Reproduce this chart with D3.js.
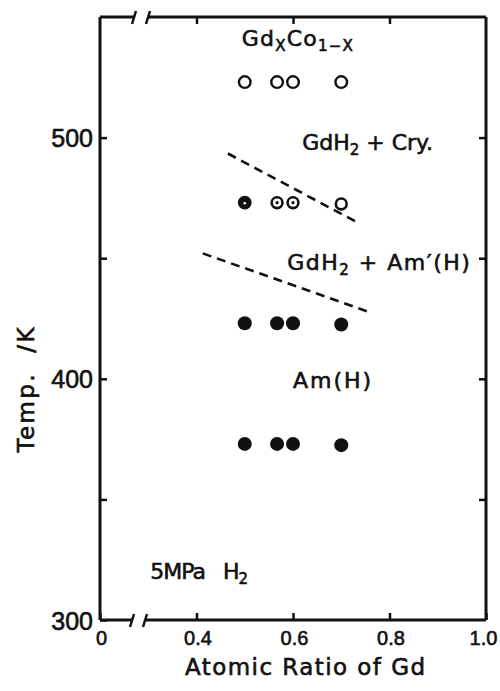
<!DOCTYPE html>
<html>
<head>
<meta charset="utf-8">
<script src="https://cdn.jsdelivr.net/npm/d3@7/dist/d3.min.js"></script>
<style>
  html, body { margin: 0; padding: 0; background: #fff; }
  svg { display: block; font-family: "DejaVu Sans", sans-serif; }
</style>
</head>
<body>
<svg id="chart" width="500" height="691"></svg>
<script>
// Atomic ratio of Gd for each sample
const ratios = [0.5, 0.567, 0.6, 0.7];

// Temperatures (K) of each row of measurements
const crystalTemp = [523, 523, 523, 523];
const mixedTemp = [473, 473, 473, 472.5];
const amorphTemp = [423, 423, 423, 422.5];
const lowTemp = [373, 373, 373, 372.5];

// marker style of the 473 K row
const mixedKind = ['dark', 'dot', 'dot', 'open'];

// Dashed phase boundaries (two end points each)
const upperBoundX = [0.465, 0.731];
const upperBoundT = [493.4, 465.1];
const lowerBoundX = [0.413, 0.753];
const lowerBoundT = [452, 428];

// Tick values and labels
const xTicks = [0.2, 0.4, 0.6, 0.8, 1.0];
const xTickLabels = ['0', '0.4', '0.6', '0.8', '1.0'];
const yTicks = [300, 350, 400, 450, 500];
const yTickLabels = ['300', '', '400', '', '500'];

const svg = d3.select('#chart');
const width = 500, height = 691;
const margin = { top: 17, right: 14, bottom: 71, left: 100 };
const innerWidth = width - margin.left - margin.right;
const innerHeight = height - margin.top - margin.bottom;

const g = svg.append('g')
  .attr('transform', `translate(${margin.left},${margin.top})`);

// X scale (axis is broken between 0 and 0.4, so 0 sits where 0.2 would)
const x = d3.scaleLinear()
  .domain([0.2, 1.0])
  .range([0, innerWidth]);

// Y scale
const y = d3.scaleLinear()
  .domain([300, 550])
  .range([innerHeight, 0]);

const ink = '#111';

// thicken the thin DejaVu glyphs a little so they look like the print
const inkText = sel => sel
  .attr('fill', ink)
  .attr('stroke', ink)
  .attr('stroke-width', 0.6);

// Axes, ticks pointing inward
const styleAxis = sel => {
  sel.select('.domain').remove();
  sel.selectAll('.tick line').attr('stroke', ink).attr('stroke-width', 2.5);
  sel.selectAll('.tick text').call(inkText);
  // drop unlabeled tick texts
  sel.selectAll('.tick text').filter(function () { return !this.textContent; }).remove();
};

g.append('g')
  .attr('transform', `translate(0,${innerHeight})`)
  .call(d3.axisBottom(x).tickValues(xTicks).tickSize(-7).tickPadding(11)
    .tickFormat((d, i) => xTickLabels[i]))
  .call(styleAxis)
  .selectAll('.tick text')
  .attr('font-size', 20)
  .attr('dx', (d, i) => i === 4 ? -3 : 1);

g.append('g')
  .call(d3.axisTop(x).tickValues(xTicks.slice(1, 4)).tickSize(-7).tickFormat(''))
  .call(styleAxis);

g.append('g')
  .call(d3.axisLeft(y).tickValues(yTicks).tickSize(-7).tickPadding(7)
    .tickFormat((d, i) => yTickLabels[i]))
  .call(styleAxis)
  .selectAll('.tick text')
  .attr('font-size', 25)
  .attr('dy', '0.36em');

g.append('g')
  .attr('transform', `translate(${innerWidth},0)`)
  .call(d3.axisRight(y).tickValues(yTicks.slice(1)).tickSize(-7).tickFormat(''))
  .call(styleAxis);

// Frame with the break marks on top and bottom edges
const frame = g.append('g')
  .attr('fill', 'none')
  .attr('stroke', ink)
  .attr('stroke-width', 3);

frame.append('line').attr('x1', 0).attr('x2', 0).attr('y1', 0).attr('y2', innerHeight);
frame.append('line').attr('x1', innerWidth).attr('x2', innerWidth).attr('y1', 0).attr('y2', innerHeight);

[[0, 35, 49], [innerHeight, 33, 46]].forEach(([yy, b0, b1]) => {
  frame.append('line').attr('x1', 0).attr('x2', b0).attr('y1', yy).attr('y2', yy);
  frame.append('line').attr('x1', b1).attr('x2', innerWidth).attr('y1', yy).attr('y2', yy);
  [b0, b1].forEach(bx => {
    frame.append('line')
      .attr('stroke-width', 2.5)
      .attr('x1', bx - 3).attr('y1', yy + 7)
      .attr('x2', bx + 1).attr('y2', yy - 6);
  });
});

// Dashed boundaries
const line = d3.line()
  .x(d => x(d[0]))
  .y(d => y(d[1]));

[[upperBoundX, upperBoundT], [lowerBoundX, lowerBoundT]].forEach(([bx, bt]) => {
  g.append('path')
    .datum(bx.map((v, i) => [v, bt[i]]))
    .attr('fill', 'none')
    .attr('stroke', ink)
    .attr('stroke-width', 2.6)
    .attr('stroke-dasharray', '9,6')
    .attr('d', line);
});

// Open circles: crystalline alloy
g.append('g').selectAll('circle')
  .data(ratios.map((r, i) => [r, crystalTemp[i]]))
  .join('circle')
  .attr('cx', d => x(d[0]))
  .attr('cy', d => y(d[1]))
  .attr('r', 5.8)
  .attr('fill', '#fff')
  .attr('stroke', ink)
  .attr('stroke-width', 2.4);

// 473 K row: rings with a dot inside
const mixed = g.append('g').selectAll('g')
  .data(ratios.map((r, i) => ({ r, t: mixedTemp[i], kind: mixedKind[i] })))
  .join('g')
  .attr('transform', d => `translate(${x(d.r)},${y(d.t)})`);

mixed.append('circle')
  .attr('r', d => d.kind === 'dark' ? 5.6 : 5.4)
  .attr('fill', d => d.kind === 'dark' ? ink : '#fff')
  .attr('stroke', ink)
  .attr('stroke-width', 2.6);

mixed.filter(d => d.kind === 'dot').append('circle')
  .attr('r', 1.6)
  .attr('fill', ink);

mixed.filter(d => d.kind === 'dark').append('circle')
  .attr('r', 1.3)
  .attr('cy', 0.5)
  .attr('fill', '#fff');

// Filled circles: amorphous
[amorphTemp, lowTemp].forEach(temps => {
  g.append('g').selectAll('circle')
    .data(ratios.map((r, i) => [r, temps[i]]))
    .join('circle')
    .attr('cx', d => x(d[0]))
    .attr('cy', d => y(d[1]))
    .attr('r', 7)
    .attr('fill', ink);
});

// Region labels
const labels = g.append('g')
  .attr('font-size', 22)
  .call(inkText);

const addLabel = (xv, tv, spacing, parts) => {
  const t = labels.append('text')
    .attr('x', x(xv))
    .attr('y', y(tv))
    .attr('letter-spacing', spacing);
  parts.forEach(([s, sub]) => {
    t.append('tspan')
      .attr('font-size', sub ? 15 : 22)
      .attr('baseline-shift', sub ? '-5' : null)
      .text(s);
  });
};

addLabel(0.494, 537.8, 1.2, [['Gd'], ['X', true], ['Co'], ['1\u2212X', true]]);
addLabel(0.619, 495, 0, [['GdH'], ['2', true], [' + Cry.']]);
addLabel(0.588, 445.2, 1.5, [['GdH'], ['2', true], [' + Am\u2032(H)']]);
addLabel(0.6, 396.3, 2, [['Am(H)']]);
addLabel(0.304, 317, -1, [['5MPa\u00a0\u00a0\u00a0H'], ['2', true]]);

// Axis titles
svg.append('text')
  .attr('x', 305)
  .attr('y', 675)
  .attr('text-anchor', 'middle')
  .attr('font-size', 23)
  .call(inkText)
  .attr('textLength', 240)
  .attr('lengthAdjust', 'spacing')
  .text('Atomic Ratio of Gd');

svg.append('text')
  .attr('transform', 'translate(34,390) rotate(-90)')
  .attr('text-anchor', 'middle')
  .attr('font-size', 23)
  .call(inkText)
  .attr('textLength', 125)
  .attr('lengthAdjust', 'spacing')
  .text('Temp.\u00a0\u00a0/K');
</script>
</body>
</html>
